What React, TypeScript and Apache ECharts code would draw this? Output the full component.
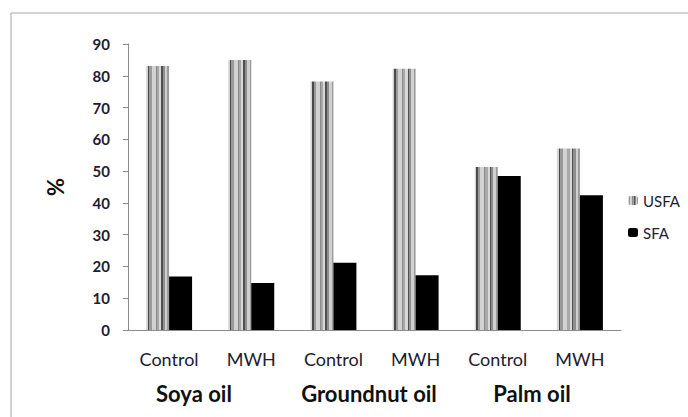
import React, { useEffect, useRef } from "react";
import * as echarts from "echarts";

const categories = ["Control", "MWH", "Control", "MWH", "Control", "MWH"];
const groups = ["Soya oil", "Groundnut oil", "Palm oil"];
const groupCenters = [194, 369, 532];
const usfa = [83.1, 85.0, 78.2, 82.2, 51.3, 57.1];
const sfa = [16.8, 14.8, 21.2, 17.2, 48.5, 42.4];
const yTicks = { min: 0, max: 90, interval: 10 };

const stripeBands: [number, number, string][] = [
  [0, 0.07, "#d4d4d4"],
  [0.07, 0.14, "#4a4a4a"],
  [0.14, 0.25, "#9a9a9a"],
  [0.25, 0.42, "#d2d2d2"],
  [0.42, 0.46, "#8a8a8a"],
  [0.46, 0.56, "#a8a8a8"],
  [0.56, 0.65, "#d8d8d8"],
  [0.65, 0.72, "#505050"],
  [0.72, 0.81, "#8e8e8e"],
  [0.81, 0.93, "#d0d0d0"],
  [0.93, 1, "#9a9a9a"],
];

function stripes() {
  const stops: { offset: number; color: string }[] = [];
  stripeBands.forEach(([a, b, c]) => {
    stops.push({ offset: a, color: c });
    stops.push({ offset: b, color: c });
  });
  return new echarts.graphic.LinearGradient(0, 0, 1, 0, stops);
}

export default function App() {
  const ref = useRef<HTMLDivElement>(null);
  useEffect(() => {
    document.body.style.margin = "0";
    const chart = echarts.init(ref.current!, undefined, { renderer: "svg" });
    const font = "Lato, 'Open Sans', sans-serif";
    chart.setOption({
      animation: false,
      backgroundColor: "#ffffff",
      textStyle: { fontFamily: font },
      grid: { left: 128, right: 67, top: 44, bottom: 87 },
      legend: {
        orient: "vertical",
        left: 623,
        top: 188,
        itemWidth: 10,
        itemHeight: 9,
        itemGap: 17,
        itemTextGap: 3,
        textStyle: { fontSize: 15, color: "#1c2030", fontFamily: font },
        data: ["USFA", "SFA"],
      },
      xAxis: {
        type: "category",
        data: categories,
        axisLine: { lineStyle: { color: "#8c8c8c" } },
        axisTick: { length: 6, lineStyle: { color: "#8c8c8c" } },
        axisLabel: { fontSize: 18, color: "#1c2030", margin: 20, fontFamily: font },
      },
      yAxis: {
        type: "value",
        min: yTicks.min,
        max: yTicks.max,
        interval: yTicks.interval,
        name: "%",
        nameLocation: "middle",
        nameRotate: 90,
        nameGap: 62,
        nameTextStyle: { fontSize: 22, fontWeight: "bold", color: "#111", fontFamily: font },
        axisLine: { show: true, lineStyle: { color: "#8c8c8c" } },
        axisTick: { show: true, length: 5, lineStyle: { color: "#8c8c8c" } },
        splitLine: { show: false },
        axisLabel: { fontSize: 15, fontWeight: "bold", color: "#1c2030", margin: 18, fontFamily: font },
      },
      graphic: [
        {
          type: "rect",
          shape: { x: 11, y: 13, width: 720, height: 440 },
          style: { fill: "none", stroke: "#a6a6a6", lineWidth: 1 },
          silent: true,
        },
        ...groups.map((g, i) => ({
          type: "text",
          x: groupCenters[i],
          y: 393,
          style: {
            text: g,
            fontSize: 22,
            fontWeight: "bold",
            fontFamily: font,
            fill: "#111",
            textAlign: "center",
            textVerticalAlign: "middle",
          },
        })),
      ],
      series: [
        {
          name: "USFA",
          type: "bar",
          data: usfa,
          barWidth: 23,
          barGap: "0%",
          itemStyle: { color: stripes() },
        },
        {
          name: "SFA",
          type: "bar",
          data: sfa,
          barWidth: 23,
          barGap: "0%",
          itemStyle: { color: "#000000" },
        },
      ],
    });
    return () => chart.dispose();
  }, []);
  return <div ref={ref} style={{ width: 688, height: 417 }} />;
}
